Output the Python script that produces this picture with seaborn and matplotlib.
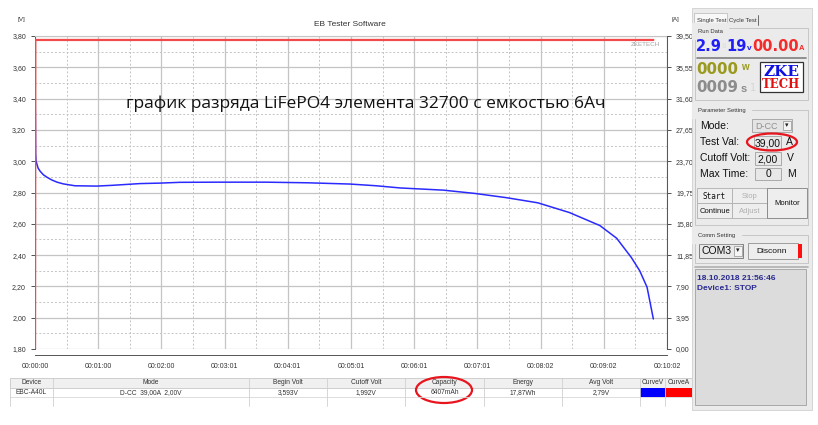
import seaborn as sns
import matplotlib.pyplot as plt
from matplotlib.patches import Rectangle, Ellipse

# discharge curve: time in seconds, volts and amps
time_v = [0, 0.6, 1, 3, 5, 8, 12, 16, 21, 27, 38, 59, 74, 100, 119, 138, 176, 220,
          260, 300, 325, 348, 389, 419, 449, 479, 509, 538, 554, 568, 576, 583, 589]
volts = [3.593, 3.05, 3.00, 2.955, 2.935, 2.913, 2.895, 2.88, 2.866, 2.855, 2.843,
         2.841, 2.846, 2.857, 2.86, 2.865, 2.866, 2.866, 2.862, 2.854, 2.843, 2.829,
         2.815, 2.794, 2.767, 2.734, 2.672, 2.589, 2.508, 2.385, 2.30, 2.195, 1.992]
time_a = [0, 0.3, 589]
amps = [0.0, 39.0, 39.0]

x_ticks = [0, 60.2, 120.4, 180.6, 240.8, 301, 361.2, 421.4, 481.6, 541.8, 602]
x_labels = ["00:00:00", "00:01:00", "00:02:00", "00:03:01", "00:04:01", "00:05:01",
            "00:06:01", "00:07:01", "00:08:02", "00:09:02", "00:10:02"]
v_ticks = [1.8, 2.0, 2.2, 2.4, 2.6, 2.8, 3.0, 3.2, 3.4, 3.6, 3.8]
v_labels = ["1,80", "2,00", "2,20", "2,40", "2,60", "2,80", "3,00", "3,20", "3,40", "3,60", "3,80"]
a_ticks = [0, 3.95, 7.9, 11.85, 15.8, 19.75, 23.7, 27.65, 31.6, 35.55, 39.5]
a_labels = ["0,00", "3,95", "7,90", "11,85", "15,80", "19,75", "23,70", "27,65", "31,60", "35,55", "39,50"]

headers = ["Device", "Mode", "Begin Volt", "Cutoff Volt", "Capacity", "Energy", "Avg Volt", "CurveV", "CurveA"]
row = ["EBC-A40L", "D-CC  39,00A  2,00V", "3,593V", "1,992V", "6407mAh", "17,87Wh", "2,79V", "", ""]

sns.set_style("white")
plt.rcParams['font.family'] = ['Liberation Sans', 'DejaVu Sans']

W, H = 818, 425
fig = plt.figure(figsize=(W / 100, H / 100), dpi=100)

# plot area in pixels
px_l, px_r, px_t, px_b = 35, 667, 36, 349
ax = fig.add_axes([px_l / W, 1 - px_b / H, (px_r - px_l) / W, (px_b - px_t) / H])
sns.lineplot(x=time_v, y=volts, ax=ax, color="#2a2aff", lw=1.1)
ax.set_xlim(0, 602)
ax.set_ylim(1.8, 3.8)
ax.set_xticks(x_ticks)
ax.set_xticklabels(x_labels)
ax.set_xticks([t + 30.1 for t in x_ticks[:-1]], minor=True)
ax.set_yticks(v_ticks)
ax.set_yticklabels(v_labels)
ax.set_yticks([v + 0.1 for v in v_ticks[:-1]], minor=True)
ax.grid(which="major", color="#c4c4c4", lw=0.9, ls="-")
ax.grid(which="minor", color="#c4c4c4", lw=0.7, ls=(0, (2, 2)))
ax.tick_params(axis="both", which="major", labelsize=5, colors="#333333", length=3, width=0.6)
ax.tick_params(axis="both", which="minor", length=0)
ax.tick_params(axis="x", direction="in", pad=6)
ax.spines["bottom"].set_position(("outward", 4))
for s in ["top", "right"]:
    ax.spines[s].set_color("#c4c4c4")
for s in ["left", "bottom"]:
    ax.spines[s].set_color("#555555")
    ax.spines[s].set_linewidth(0.7)
ax.set_xlabel("")
ax.set_ylabel("")

ax2 = ax.twinx()
sns.lineplot(x=time_a, y=amps, ax=ax2, color="#f24a4a", lw=1.6)
ax2.set_ylim(0, 39.5)
ax2.set_yticks(a_ticks)
ax2.set_yticklabels(a_labels)
ax2.tick_params(axis="y", labelsize=5, colors="#333333", length=3, width=0.6)
ax2.spines["right"].set_color("#555555")
ax2.spines["right"].set_linewidth(0.7)
for s in ["top", "left", "bottom"]:
    ax2.spines[s].set_visible(False)
ax2.set_ylabel("")
ax2.grid(False)

# overlay in pixel coordinates for window decorations
ov = fig.add_axes([0, 0, 1, 1])
ov.set_xlim(0, W)
ov.set_ylim(H, 0)
ov.axis("off")
ov.patch.set_visible(False)


def box(x, y, w, h, fc="none", ec="#a0a0a0", lw=0.6):
    ov.add_patch(Rectangle((x, y), w, h, fc=fc, ec=ec, lw=lw))


def txt(x, y, s, size=5, color="#333333", ha="left", **kw):
    ov.text(x, y, s, fontsize=size, color=color, ha=ha, va="center", **kw)


txt(350, 24, "EB Tester Software", 6, ha="center")
txt(18, 19, "[V]", 4.5)
txt(672, 19, "[A]", 4.5)
txt(660, 44, "ZKETECH", 4.5, color="#a0a0a0", ha="right")
ov.text(366, 104, "график разряда LiFePO4 элемента 32700 с емкостью 6Ач",
        fontsize=12.5, color="#111111", ha="center", va="center", family=["Open Sans", "DejaVu Sans"])

# result table
col_x = [10, 53, 249, 327, 405, 484, 562, 640, 665, 692]
box(10, 378, 682, 10, fc="#f0f0f0", ec="#c8c8c8")
ov.plot([10, 692], [397, 397], color="#d8d8d8", lw=0.6)
for i in range(len(headers)):
    x0, x1 = col_x[i], col_x[i + 1]
    ov.plot([x0, x0], [378, 406], color="#d0d0d0", lw=0.6)
    txt((x0 + x1) / 2, 383, headers[i], 4.8, ha="center")
    txt((x0 + x1) / 2, 392.5, row[i], 4.8, ha="center")
ov.add_patch(Rectangle((640, 388), 25, 9, fc="#0000ff", ec="none"))
ov.add_patch(Rectangle((665, 388), 27, 9, fc="#ff0000", ec="none"))
ov.add_patch(Ellipse((444, 390), 56, 26, fc="none", ec="#e8141e", lw=1.6))

# right control panel
lcd = ["DejaVu Sans"]
box(692, 8, 120, 402, fc="#ebebeb", ec="#d0d0d0")
box(694, 13, 33, 13, fc="#f8f8f8", ec="#c0c0c0")
txt(697, 20, "Single Test", 4.3)
txt(729, 20, "Cycle Test", 4.3)
ov.plot([758, 758], [15, 25], color="#555555", lw=0.6)
box(695, 28, 113, 72, ec="#c0c0c0")
txt(698, 31, "Run Data", 4.2, backgroundcolor="#ebebeb")
txt(696, 46, "2.9", 10.5, color="#1f1ff5", weight="bold", family=lcd)
txt(722, 46, "8", 5, color="#dcdcdc", family=lcd)
txt(726, 46, "19", 10.5, color="#1f1ff5", weight="bold", family=lcd)
txt(746.5, 48, "v", 6, color="#1f1ff5", weight="bold")
txt(752, 46, "00.00", 10.5, color="#f52a2a", weight="bold", family=lcd)
txt(799, 48, "A", 5.5, color="#f52a2a", weight="bold")
ov.plot([697, 806], [58, 58], color="#808080", lw=1.2)
txt(696, 69, "0000", 10.8, color="#9a9a20", weight="bold", family=lcd)
txt(741.5, 67, "w", 7, color="#9a9a20", weight="bold")
txt(696, 87, "0009", 10.8, color="#8c8c8c", weight="bold", family=lcd)
txt(741, 89, "s", 8, color="#8c8c8c", weight="bold")
txt(750, 88, "1", 7, color="#d4d4d4", family=lcd)
box(760, 62, 43, 30, fc="white", ec="#333333", lw=0.9)
txt(781.5, 72, "ZKE", 11, color="#1010e0", ha="center", weight="bold", family=["DejaVu Serif"])
txt(781.5, 84, "TECH", 8.5, color="#e01010", ha="center", weight="bold", family=["DejaVu Serif"])

box(695, 110, 113, 115, ec="#c0c0c0")
txt(698, 110, "Parameter Setting", 4.2, backgroundcolor="#ebebeb")
txt(700, 126, "Mode:", 7.5, color="#111111")
box(752, 119, 40, 13, fc="#e4e4e4", ec="#a0a0a0")
txt(755, 126, "D-CC", 6.5, color="#909090")
box(783, 121, 8, 9, fc="#f4f4f4", ec="#a0a0a0")
txt(787, 126, "▾", 5, color="#222222", ha="center")
txt(700, 142, "Test Val:", 7.5, color="#111111")
box(754, 136, 27, 13, fc="#e8e8e8", ec="#a0a0a0")
txt(767.5, 143, "39,00", 7.5, color="#111111", ha="center")
txt(786, 142, "A", 7.5, color="#111111")
ov.add_patch(Ellipse((772, 142), 50, 17, fc="none", ec="#e8141e", lw=1.6))
txt(700, 158, "Cutoff Volt:", 7.5, color="#111111")
box(755, 152, 26, 13, fc="#e8e8e8", ec="#a0a0a0")
txt(768, 159, "2,00", 7.5, color="#111111", ha="center")
txt(787, 158, "V", 7.5, color="#111111")
txt(700, 174, "Max Time:", 7.5, color="#111111")
box(755, 168, 26, 12, fc="#e8e8e8", ec="#a0a0a0")
txt(768, 174, "0", 7.5, color="#111111", ha="center")
txt(787, 174, "M", 7.5, color="#111111")
box(697, 188, 35, 15, fc="#eeeeee", ec="#b0b0b0")
box(732, 188, 35, 15, fc="#eeeeee", ec="#b0b0b0")
box(697, 203, 35, 15, fc="#eeeeee", ec="#b0b0b0")
box(732, 203, 35, 15, fc="#eeeeee", ec="#b0b0b0")
box(767, 188, 40, 30, fc="#eeeeee", ec="#808080")
txt(714.5, 196, "Start", 5.5, color="#111111", ha="center", family=["DejaVu Sans Mono"])
txt(749.5, 196, "Stop", 5.5, color="#b0b0b0", ha="center")
txt(714.5, 211, "Continue", 5.5, color="#111111", ha="center")
txt(749.5, 211, "Adjust", 5.5, color="#b0b0b0", ha="center")
txt(787, 203, "Monitor", 5.5, color="#111111", ha="center")

box(695, 235, 113, 28, ec="#c0c0c0")
txt(698, 235, "Comm Setting", 4.2, backgroundcolor="#ebebeb")
box(699, 244, 44, 14, fc="#e8e8e8", ec="#707070")
txt(701, 251, "COM3", 7.5, color="#111111")
box(734, 246, 8, 10, fc="#f4f4f4", ec="#a0a0a0")
txt(738, 251, "▾", 5, color="#222222", ha="center")
box(748, 243, 50, 16, fc="#eeeeee", ec="#909090")
txt(772, 251, "Disconn", 6, color="#111111", ha="center")
ov.add_patch(Rectangle((798, 244), 4, 14, fc="#ff1010", ec="none"))
ov.plot([695, 808], [267, 267], color="#b0b0b0", lw=1.2)
box(695, 269, 111, 136, fc="#dcdcdc", ec="#a0a0a0")
txt(697, 278, "18.10.2018 21:56:46", 6, color="#2a2a90", weight="bold")
txt(697, 288, "Device1: STOP", 6, color="#2a2a90", weight="bold")

fig.savefig("out.png", dpi=100)
